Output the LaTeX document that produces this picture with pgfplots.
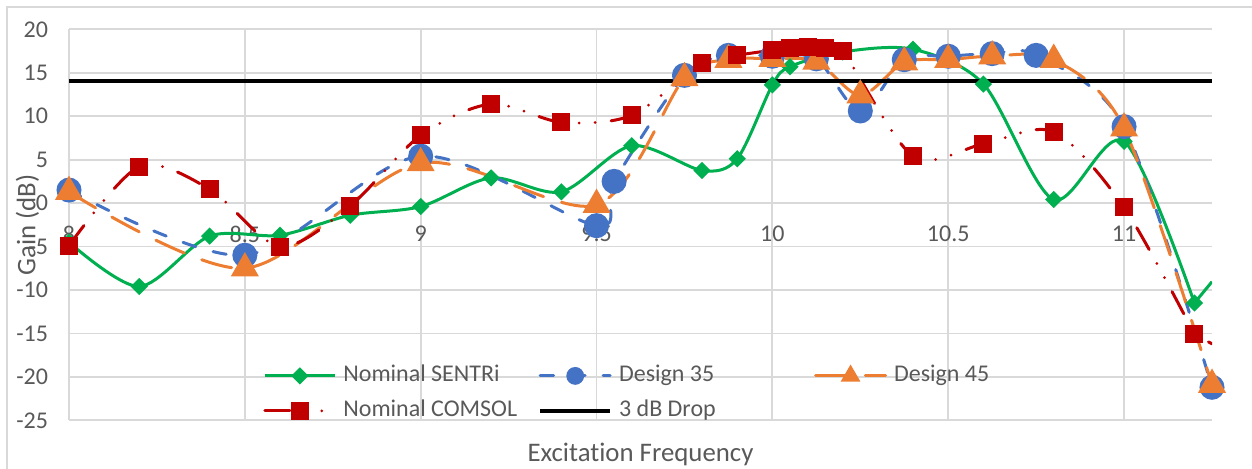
\documentclass[border=0pt]{standalone}
\usepackage{pgfplots}
\pgfplotsset{compat=1.18}
\usepackage{fontspec}
\setmainfont{Carlito}[Ligatures={NoCommon}]
\definecolor{cgreen}{HTML}{00B050}
\definecolor{cblue}{HTML}{4472C4}
\definecolor{corange}{HTML}{ED7D31}
\definecolor{cred}{HTML}{C00000}
\definecolor{cgrid}{HTML}{D9D9D9}
\definecolor{ctext}{HTML}{595959}
\begin{document}
\begin{tikzpicture}
\begin{axis}[
  at={(0,0)}, anchor=south west,
  scale only axis, width=571.5bp, height=195.5bp,
  xmin=8, xmax=11.25, ymin=-25, ymax=20,
  axis x line=middle, axis y line=left,
  axis line style={draw=cgrid, line width=0.9bp, -},
  hide obscured x ticks=false, hide obscured y ticks=false,
  xtick={8,8.5,9,9.5,10,10.5,11},
  xticklabels={8,8.5,9,9.5,10,10.5,11},
  ytick={-25,-20,-15,-10,-5,0,5,10,15,20},
  major tick length=0pt,
  grid=major,
  major grid style={draw=cgrid, line width=0.9bp},
  ticklabel style={font=\fontsize{12bp}{14bp}\selectfont, text=ctext},
  /pgf/number format/assume math mode=true,
  xticklabel style={anchor=north, yshift=-8bp},
  yticklabel style={anchor=east, xshift=-7bp},
  xlabel={Excitation Frequency},
  ylabel={Gain (dB)},
  label style={font=\fontsize{13.4bp}{15bp}\selectfont, text=ctext},
  xlabel style={at={(axis description cs:0.5,-0.1059)}, anchor=base},
  ylabel style={at={(axis description cs:-0.0363,0.5)}, anchor=center},
  legend columns=3,
  legend cell align=left,
  legend style={draw=none, fill=none, at={(axis description cs:0.1697,0.1453)}, anchor=north west,
    inner sep=0pt, row sep=5.5bp, font=\fontsize{12bp}{14bp}\selectfont,
    nodes={inner sep=0pt, text height=9bp, text depth=3bp, text width=97.5bp, align=flush left, anchor=west, text=ctext},
    /tikz/every odd column/.style={column sep=3.5bp}},
  legend image code/.code={\draw[mark repeat=2,mark phase=2,#1] plot coordinates {(0bp,0bp) (17.5bp,0bp) (35bp,0bp)};},
]
% Nominal SENTRi
\addplot[cgreen, line width=1.5bp, smooth, mark=square*, mark size=2.3bp,
  mark options={solid, rotate=45, fill=cgreen}] table {
x y
8 -4.5
8.2 -9.6
8.4 -3.8
8.6 -3.7
8.8 -1.4
9.0 -0.4
9.2 2.9
9.4 1.3
9.6 6.6
9.8 3.75
9.9 5.1
10.0 13.6
10.05 15.7
10.2 17.4
10.4 17.7
10.6 13.7
10.8 0.4
11.0 7.1
11.2 -11.5
};
\addlegendentry{Nominal SENTRi}
\addplot[cgreen, line width=1.5bp, forget plot] coordinates {(11.2,-11.5) (11.25,-9.05)};
% Design 35
\addplot[cblue, line width=1.5bp, smooth, line cap=round, dash pattern=on 6.7bp off 9bp,
  mark=*, mark size=5.5bp, mark options={solid, fill=cblue},
  legend image post style={mark size=3.7bp}] table {
x y
8 1.5
8.5 -6.0
9.0 5.4
9.5 -2.6
9.55 2.5
9.75 14.7
9.875 17.0
10.0 16.9
10.125 16.6
10.25 10.6
10.375 16.5
10.5 16.9
10.625 17.2
10.75 17.0
11.0 8.8
11.25 -21.2
};
\addlegendentry{Design 35}
% Design 45
\addplot[corange, line width=1.5bp, smooth, line cap=round, dash pattern=on 15.5bp off 9.4bp,
  mark=triangle*, mark size=6.6bp, mark options={solid, fill=corange},
  legend image post style={mark size=4.2bp}] table {
x y
8 1.3
8.5 -7.5
9.0 4.6
9.5 -0.2
9.75 14.4
9.875 16.5
10.0 16.6
10.125 16.3
10.25 12.4
10.375 16.2
10.5 16.5
10.625 16.9
10.8 16.5
11.0 8.6
11.25 -20.9
};
\addlegendentry{Design 45}
% Nominal COMSOL
\addplot[cred, line width=1.5bp, smooth, line cap=round,
  dash pattern=on 12.5bp off 8bp on 0bp off 8bp on 0bp off 8bp,
  mark=square*, mark size=3.75bp, mark options={solid, fill=cred}] table {
x y
8 -4.9
8.2 4.2
8.4 1.6
8.6 -5.0
8.8 -0.3
9.0 7.8
9.2 11.4
9.4 9.3
9.6 10.1
9.8 16.1
9.9 17.0
10.0 17.6
10.05 17.9
10.1 18.0
10.15 17.9
10.2 17.5
10.4 5.4
10.6 6.8
10.8 8.2
11.0 -0.5
11.2 -15.1
};
\addlegendentry{Nominal COMSOL}
\addplot[cred, line width=1.5bp, line cap=round, dash pattern=on 0bp off 8bp on 4bp off 8bp, forget plot] coordinates {(11.2,-15.1) (11.25,-16.2)};
% 3 dB Drop
\addplot[black, line width=1.85bp] coordinates {(8,14.05) (11.25,14.05)};
\addlegendentry{3 dB Drop}
\end{axis}
\draw[cgrid, line width=1bp] (-31bp,-24.35bp) -- (-31bp,206.65bp) -- (591.5bp,206.65bp);
\pgfresetboundingbox
\path[use as bounding box] (-34.5bp,-24.35bp) rectangle (591.5bp,210.15bp);
\end{tikzpicture}
\end{document}
